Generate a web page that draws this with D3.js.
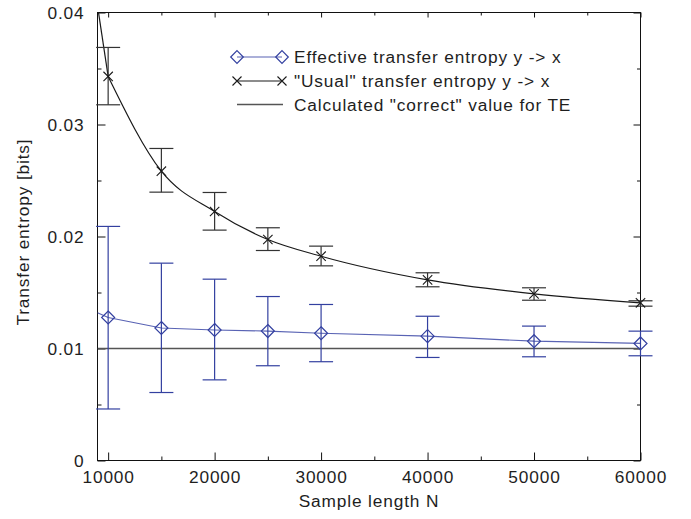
<!DOCTYPE html>
<html>
<head>
<meta charset="utf-8">
<script src="https://cdn.jsdelivr.net/npm/d3@7"></script>
<style>
  html, body { margin: 0; padding: 0; background: #fff; }
  svg { display: block; }
  text { font-family: "Liberation Sans", Arial, Helvetica, sans-serif; fill: #1e1e1e; }
</style>
</head>
<body>
<svg id="chart" width="691" height="519"></svg>
<script>
// ---- data ----
const sampleN   = [10000, 15000, 20000, 25000, 30000, 40000, 50000, 60000];
const effTE     = [0.01277, 0.01183, 0.01165, 0.01156, 0.01136, 0.01110, 0.01065, 0.01045];
const effLo     = [0.00460, 0.00607, 0.00720, 0.00846, 0.00882, 0.00920, 0.00926, 0.00935];
const effHi     = [0.02090, 0.01762, 0.01619, 0.01464, 0.01393, 0.01288, 0.01200, 0.01155];
const usualTE   = [0.03429, 0.02583, 0.02223, 0.01973, 0.01824, 0.01613, 0.01488, 0.01408];
const usualLo   = [0.03176, 0.02396, 0.02057, 0.01875, 0.01738, 0.01551, 0.01431, 0.01378];
const usualHi   = [0.03688, 0.02786, 0.02393, 0.02078, 0.01914, 0.01676, 0.01542, 0.01426];
const lineStartN = 9000;          // where the drawn lines begin (left edge)
const effLineStart = 0.01319;     // blue line value at left edge
const usualLineStart = 0.0406;    // black curve value at left edge (clipped)
const correctTE = 0.01;           // calculated "correct" value

const xDomain = [9000, 60000];
const yDomain = [0, 0.04];
const xMajorTicks = [10000, 20000, 30000, 40000, 50000, 60000];
const xTickLabels = ["10000", "20000", "30000", "40000", "50000", "60000"];
const xMinorTicks = [15000, 25000, 35000, 45000, 55000];
const yMajorTicks = [0, 0.01, 0.02, 0.03, 0.04];
const yTickLabels = ["0", "0.01", "0.02", "0.03", "0.04"];
const yMinorTicks = [0.005, 0.015, 0.025, 0.035];
const legendLabels = [
  "Effective transfer entropy y -> x",
  "\"Usual\" transfer entropy y -> x",
  "Calculated \"correct\" value for TE"
];
const xTitle = "Sample length N";
const yTitle = "Transfer entropy [bits]";

// ---- layout ----
const L = 97.5, R = 640.5, T = 12.5, B = 460.5;
const blueLine = "#5963b4", blueMark = "#3340a0", blackLine = "#1a1a1a", blackErr = "#333", refGray = "#555";
const FS = 17.3, LS = "0.85px";

const svg = d3.select("#chart");
const x = d3.scaleLinear().domain(xDomain).range([L, R]);
const y = d3.scaleLinear().domain(yDomain).range([B, T]);

svg.append("defs").append("clipPath").attr("id", "plotclip")
  .append("rect").attr("x", L).attr("y", T).attr("width", R - L).attr("height", B - T);

// ---- axes (ticks pointing inward) ----
function styleAxis(g) {
  g.select(".domain").remove();
  g.selectAll(".tick line").attr("stroke", "#111").attr("stroke-width", 1);
  g.selectAll(".tick text").attr("font-size", FS).attr("letter-spacing", LS)
    .attr("fill", "#1e1e1e").attr("font-family", "Liberation Sans, Arial, sans-serif");
}
svg.append("g").attr("transform", `translate(0,${B})`)
  .call(d3.axisBottom(x).tickValues(xMajorTicks).tickFormat((d, i) => xTickLabels[i])
    .tickSize(-8).tickPadding(10.3))
  .call(styleAxis);
svg.append("g").attr("transform", `translate(0,${B})`)
  .call(d3.axisBottom(x).tickValues(xMinorTicks).tickFormat("").tickSize(-4))
  .call(styleAxis);
svg.append("g").attr("transform", `translate(0,${T})`)
  .call(d3.axisTop(x).tickValues(xMajorTicks).tickFormat("").tickSize(-5))
  .call(styleAxis);
svg.append("g").attr("transform", `translate(0,${T})`)
  .call(d3.axisTop(x).tickValues(xMinorTicks).tickFormat("").tickSize(-3))
  .call(styleAxis);
svg.append("g").attr("transform", `translate(${L},0)`)
  .call(d3.axisLeft(y).tickValues(yMajorTicks).tickFormat((d, i) => yTickLabels[i])
    .tickSize(-8).tickPadding(13))
  .call(styleAxis);
svg.append("g").attr("transform", `translate(${L},0)`)
  .call(d3.axisLeft(y).tickValues(yMinorTicks).tickFormat("").tickSize(-4))
  .call(styleAxis);
svg.append("g").attr("transform", `translate(${R},0)`)
  .call(d3.axisRight(y).tickValues(yMajorTicks).tickFormat("").tickSize(-7))
  .call(styleAxis);
svg.append("g").attr("transform", `translate(${R},0)`)
  .call(d3.axisRight(y).tickValues(yMinorTicks).tickFormat("").tickSize(-3.5))
  .call(styleAxis);

// frame
svg.append("rect").attr("x", L).attr("y", T).attr("width", R - L).attr("height", B - T)
  .attr("fill", "none").attr("stroke", "#111").attr("stroke-width", 1);

// axis titles
svg.append("text").attr("x", (L + R) / 2).attr("y", 507).attr("text-anchor", "middle")
  .attr("font-size", FS).attr("letter-spacing", LS).text(xTitle);
svg.append("text").attr("transform", `translate(28.5,232) rotate(-90)`).attr("text-anchor", "middle")
  .attr("font-size", FS).attr("letter-spacing", LS).text(yTitle);

// ---- data marks ----
const plot = svg.append("g");
const clipped = plot.append("g").attr("clip-path", "url(#plotclip)");

// reference line
clipped.append("line")
  .attr("x1", x(xDomain[0])).attr("x2", x(xDomain[1]))
  .attr("y1", y(correctTE)).attr("y2", y(correctTE))
  .attr("stroke", refGray).attr("stroke-width", 1.4);

const effLineData = [[lineStartN, effLineStart]].concat(sampleN.map((n, i) => [n, effTE[i]]));
const usualPts = sampleN.map((n, i) => [n, usualTE[i]]);

clipped.append("path").datum(effLineData)
  .attr("d", d3.line().x(d => x(d[0])).y(d => y(d[1])))
  .attr("fill", "none").attr("stroke", blueLine).attr("stroke-width", 1.2);
// black curve: straight lead-in from the left edge, smooth through the data points
clipped.append("path").datum([[lineStartN, usualLineStart], usualPts[0]])
  .attr("d", d3.line().x(d => x(d[0])).y(d => y(d[1])))
  .attr("fill", "none").attr("stroke", blackLine).attr("stroke-width", 1.2);
clipped.append("path").datum(usualPts)
  .attr("d", d3.line().x(d => x(d[0])).y(d => y(d[1])).curve(d3.curveMonotoneX))
  .attr("fill", "none").attr("stroke", blackLine).attr("stroke-width", 1.2);

const capW = 12;
function errorBars(lo, hi, color) {
  const g = plot.append("g").attr("stroke", color).attr("stroke-width", 1.2).attr("fill", "none");
  sampleN.forEach((n, i) => {
    g.append("line").attr("x1", x(n)).attr("x2", x(n)).attr("y1", y(lo[i])).attr("y2", y(hi[i]));
    g.append("line").attr("x1", x(n) - capW).attr("x2", x(n) + capW).attr("y1", y(lo[i])).attr("y2", y(lo[i]));
    g.append("line").attr("x1", x(n) - capW).attr("x2", x(n) + capW).attr("y1", y(hi[i])).attr("y2", y(hi[i]));
  });
}
errorBars(usualLo, usualHi, blackErr);
errorBars(effLo, effHi, blueMark);

function diamond(g, cx, cy, r, color) {
  g.append("path")
    .attr("d", `M${cx},${cy - r}L${cx + r},${cy}L${cx},${cy + r}L${cx - r},${cy}Z`)
    .attr("fill", "none").attr("stroke", color).attr("stroke-width", 1.2);
}
function cross(g, cx, cy, r, color) {
  g.append("path")
    .attr("d", `M${cx - r},${cy - r}L${cx + r},${cy + r}M${cx - r},${cy + r}L${cx + r},${cy - r}`)
    .attr("fill", "none").attr("stroke", color).attr("stroke-width", 1.1);
}
const marks = plot.append("g");
sampleN.forEach((n, i) => diamond(marks, x(n), y(effTE[i]), 6.5, blueMark));
sampleN.forEach((n, i) => cross(marks, x(n), y(usualTE[i]), 4.7, blackLine));

// ---- legend ----
const lg = svg.append("g");
const lx1 = 237, lx2 = 282, tx = 294;
const rowY = [57, 81, 104.5];
lg.append("line").attr("x1", lx1).attr("x2", lx2).attr("y1", rowY[0]).attr("y2", rowY[0])
  .attr("stroke", blueLine).attr("stroke-width", 1.2);
diamond(lg, lx1, rowY[0], 6.3, blueMark);
diamond(lg, lx2, rowY[0], 6.3, blueMark);
lg.append("line").attr("x1", lx1).attr("x2", lx2).attr("y1", rowY[1]).attr("y2", rowY[1])
  .attr("stroke", blackLine).attr("stroke-width", 1.1);
cross(lg, lx1, rowY[1], 4.5, blackLine);
cross(lg, lx2, rowY[1], 4.5, blackLine);
lg.append("line").attr("x1", lx1).attr("x2", lx2 + 1).attr("y1", rowY[2]).attr("y2", rowY[2])
  .attr("stroke", refGray).attr("stroke-width", 1.4);
legendLabels.forEach((t, i) => {
  lg.append("text").attr("x", tx).attr("y", rowY[i] + 6.3)
    .attr("font-size", FS).attr("letter-spacing", LS).text(t);
});
</script>
</body>
</html>
